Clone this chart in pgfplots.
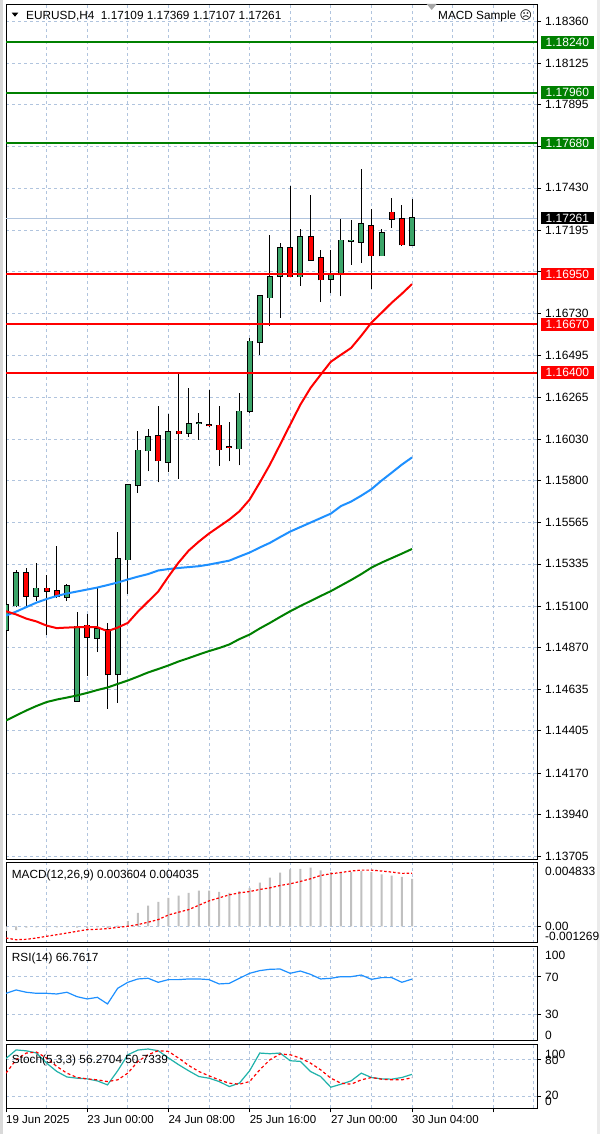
\documentclass[border=0pt]{standalone}
\usepackage{pgfplots}
\pgfplotsset{compat=1.18}
\usepackage{pgfplotstable}
\usepackage{fontspec}
\setmainfont{Liberation Sans}
\newfontfamily\dejavu{DejaVu Sans}

\definecolor{bull}{RGB}{60,165,105}
\definecolor{bear}{RGB}{255,0,0}
\definecolor{gridc}{RGB}{176,196,222}
\definecolor{mablue}{RGB}{30,144,255}
\definecolor{magreen}{RGB}{0,128,0}
\definecolor{histc}{RGB}{192,192,192}
\definecolor{stochc}{RGB}{32,178,170}

\newcommand\lbl{\fontsize{12}{14}\selectfont}
\newcommand\txt{\fontsize{11.8}{14}\selectfont}

% bullish candles: bar, low, open, close, high
\pgfplotstableread{
x  low     bot     top     high
0  1.14904 1.14965 1.15108 1.15119
1  1.15092 1.15103 1.15285 1.15303
3  1.15127 1.15155 1.15199 1.15340
6  1.15127 1.15151 1.15212 1.15225
7  1.14568 1.14570 1.14987 1.15068
9  1.14843 1.14923 1.14973 1.15201
11 1.14561 1.14719 1.15363 1.15511
12 1.15168 1.15359 1.15776 1.15780
13 1.15730 1.15773 1.15967 1.16077
14 1.15851 1.15966 1.16042 1.16088
16 1.15845 1.15901 1.16072 1.16172
18 1.16042 1.16064 1.16114 1.16315
19 1.16027 1.16116 1.16122 1.16176
23 1.15884 1.15977 1.16185 1.16287
24 1.16177 1.16185 1.16574 1.16595
25 1.16500 1.16569 1.16829 1.16834
26 1.16662 1.16819 1.16933 1.17168
27 1.16705 1.16940 1.17094 1.17122
29 1.16886 1.16936 1.17156 1.17200
32 1.16844 1.16922 1.16946 1.17085
33 1.16825 1.16946 1.17137 1.17258
34 1.17001 1.17132 1.17137 1.17252
35 1.17011 1.17128 1.17228 1.17534
37 1.17049 1.17052 1.17178 1.17202
40 1.17107 1.17109 1.17261 1.17369
}\bull

% bearish candles: bar, low, close, open, high
\pgfplotstableread{
x  low     bot     top     high
2  1.15092 1.15155 1.15285 1.15313
4  1.14941 1.15185 1.15199 1.15275
5  1.15147 1.15155 1.15186 1.15433
8  1.14709 1.14928 1.14993 1.15058
10 1.14528 1.14719 1.14969 1.15006
15 1.15789 1.15910 1.16049 1.16212
17 1.15810 1.16060 1.16073 1.16404
20 1.16100 1.16105 1.16110 1.16305
21 1.15882 1.15971 1.16107 1.16216
22 1.15906 1.15986 1.15988 1.16126
28 1.16935 1.16936 1.17094 1.17443
30 1.17026 1.17029 1.17156 1.17391
31 1.16794 1.16918 1.17039 1.17085
36 1.16866 1.17052 1.17220 1.17313
38 1.17206 1.17256 1.17293 1.17376
39 1.17107 1.17113 1.17256 1.17336
}\bear

% moving averages
\pgfplotstableread{
x  red     blue    green
0  1.15071 1.15047 1.14462
1  1.15053 1.15069 1.14490
2  1.15030 1.15094 1.14518
3  1.15014 1.15119 1.14543
4  1.14991 1.15139 1.14565
5  1.14977 1.15156 1.14579
6  1.14980 1.15170 1.14590
7  1.14982 1.15181 1.14602
8  1.14983 1.15192 1.14616
9  1.14982 1.15203 1.14632
10 1.14960 1.15217 1.14646
11 1.14980 1.15231 1.14666
12 1.15006 1.15248 1.14685
13 1.15069 1.15264 1.14707
14 1.15125 1.15278 1.14730
15 1.15181 1.15298 1.14749
16 1.15264 1.15306 1.14769
17 1.15342 1.15312 1.14791
18 1.15409 1.15317 1.14810
19 1.15459 1.15322 1.14830
20 1.15504 1.15331 1.14849
21 1.15543 1.15342 1.14866
22 1.15582 1.15353 1.14886
23 1.15628 1.15376 1.14916
24 1.15693 1.15398 1.14941
25 1.15788 1.15426 1.14975
26 1.15888 1.15452 1.15006
27 1.15999 1.15484 1.15039
28 1.16111 1.15515 1.15071
29 1.16222 1.15540 1.15100
30 1.16315 1.15565 1.15128
31 1.16389 1.15590 1.15156
32 1.16461 1.15615 1.15183
33 1.16500 1.15657 1.15214
34 1.16538 1.15682 1.15245
35 1.16606 1.15715 1.15278
36 1.16679 1.15751 1.15314
37 1.16734 1.15799 1.15342
38 1.16790 1.15843 1.15367
39 1.16840 1.15888 1.15392
40 1.16894 1.15928 1.15418
}\ma

% MACD histogram and signal
\pgfplotstableread{
x  hist     sig
0  -0.00035 -0.00089
1  -0.00030 -0.00102
2  -0.00010 -0.00099
3  -0.00008 -0.00089
4  -0.00008 -0.00076
5  -0.00008 -0.00064
6  -0.00006 -0.00051
7  -0.00010 -0.00038
8  -0.00012 -0.00025
9  -0.00008 -0.00023
10 -0.00012 -0.00018
11 0.00005  -0.00008
12 0.00040  0.00000
13 0.00102  0.00013
14 0.00158  0.00031
15 0.00186  0.00051
16 0.00216  0.00086
17 0.00234  0.00107
18 0.00254  0.00127
19 0.00272  0.00160
20 0.00272  0.00193
21 0.00262  0.00216
22 0.00254  0.00239
23 0.00267  0.00254
24 0.00292  0.00264
25 0.00331  0.00280
26 0.00369  0.00292
27 0.00407  0.00310
28 0.00432  0.00323
29 0.00437  0.00341
30 0.00445  0.00361
31 0.00425  0.00386
32 0.00412  0.00399
33 0.00412  0.00409
34 0.00412  0.00420
35 0.00420  0.00427
36 0.00412  0.00427
37 0.00394  0.00420
38 0.00386  0.00412
39 0.00375  0.00402
40 0.003604 0.004035
}\macd

% RSI(14) and Stochastic(5,3,3)
\pgfplotstableread{
x  rsi   k     d
0  51.9  82.0  58.2
1  55.4  96.0  80.0
2  53.0  94.5  90.9
3  51.9  91.0  92.5
4  51.9  74.5  82.7
5  51.2  61.0  69.1
6  53.0  52.0  58.2
7  48.4  50.0  51.1
8  46.0  48.9  48.9
9  47.7  45.6  47.3
10 40.8  39.1  44.5
11 57.1  62.0  47.3
12 63.4  88.0  58.2
13 66.9  95.8  77.3
14 67.6  97.5  88.2
15 63.4  94.7  94.7
16 66.2  83.0  93.6
17 66.2  72.0  82.7
18 66.9  62.0  70.7
19 66.9  52.7  60.9
20 66.2  50.0  53.8
21 61.7  44.5  47.3
22 62.3  36.4  41.8
23 67.6  42.0  40.2
24 72.8  62.0  44.5
25 75.6  90.9  63.6
26 77.0  89.8  80.0
27 77.3  90.9  89.3
28 72.8  78.4  88.2
29 75.2  77.3  82.7
30 71.7  60.9  74.5
31 66.9  52.7  63.6
32 67.6  35.3  50.0
33 69.3  40.2  41.8
34 69.3  45.6  40.2
35 71.0  58.2  47.3
36 66.5  51.1  51.1
37 68.3  48.9  48.4
38 68.3  48.4  47.3
39 63.4  51.1  47.3
40 66.76 56.27 50.73
}\osc

\pgfplotsset{
  panel/.style={
    scale only axis, width=531pt,
    xmin=0, xmax=52.315,
    axis line style={black, line width=1pt},
    grid style={gridc, line width=0.7pt, dash pattern=on 3pt off 3pt},
    minor grid style={gridc, line width=0.7pt, dash pattern=on 3pt off 3pt},
    tick style={black, line width=0.7pt},
    tick align=outside, major tick length=4pt,
    clip mode=individual,
    scaled y ticks=false,
    ytick pos=right,
    every tick label/.append style={font=\lbl},
  },
  wick/.style={draw=none, no markers, error bars/.cd, y dir=plus, y explicit,
    error mark=none, error bar style={draw=black, line width=1pt}},
  bodyline/.style={draw=none, no markers, error bars/.cd, y dir=plus, y explicit,
    error mark=none, error bar style={draw=black, line width=6pt}},
  bodyfill/.style={draw=none, no markers, error bars/.cd, y dir=plus, y explicit,
    error mark=none, error bar style={draw=#1, line width=4pt}},
}

\begin{document}
\begin{tikzpicture}
\path[use as bounding box] (0,0) rectangle (600pt,1134pt);
\fill[white] (0,0) rectangle (600pt,1134pt);
\fill[black!15] (0,0) rectangle (2.5pt,1134pt);
\fill[black!8] (597pt,0) rectangle (600pt,1134pt);

% ---- price panel ----
\begin{axis}[panel, at={(6pt,1129pt)}, anchor=north west, height=855pt,
  ymin=1.13685, ymax=1.18449,
  xtick={4,8,...,52}, xticklabels={}, xtick style={draw=none}, xmajorgrids,
  ytick={1.13705,1.13940,1.14170,1.14405,1.14635,1.14870,1.15100,1.15335,1.15565,1.15800,1.16030,1.16265,1.16495,1.16730,1.16965,1.17195,1.17430,1.17660,1.17895,1.18125,1.18360},
  yticklabels={1.13705,1.13940,1.14170,1.14405,1.14635,1.14870,1.15100,1.15335,1.15565,1.15800,1.16030,1.16265,1.16495,1.16730,,1.17195,1.17430,,1.17895,1.18125,1.18360},
  ymajorgrids, yticklabel pos=right,
  yticklabel style={anchor=west, inner sep=0pt, xshift=4pt}]

\addplot[gridc, line width=0.8pt] coordinates {(0,1.17261) (52.315,1.17261)};

\addplot[wick] table[x=x, y=low, y error expr=\thisrow{high}-\thisrow{low}] {\bull};
\addplot[wick] table[x=x, y=low, y error expr=\thisrow{high}-\thisrow{low}] {\bear};
\addplot[bodyline] table[x=x, y expr=\thisrow{bot}-0.00004, y error expr=\thisrow{top}-\thisrow{bot}+0.00008] {\bull};
\addplot[bodyline] table[x=x, y expr=\thisrow{bot}-0.00004, y error expr=\thisrow{top}-\thisrow{bot}+0.00008] {\bear};
\addplot[bodyfill=bull] table[x=x, y=bot, y error expr=\thisrow{top}-\thisrow{bot}] {\bull};
\addplot[bodyfill=bear] table[x=x, y=bot, y error expr=\thisrow{top}-\thisrow{bot}] {\bear};

\addplot[magreen, line width=2pt] table[x=x, y=green] {\ma};
\addplot[mablue, line width=2pt] table[x=x, y=blue] {\ma};
\addplot[red, line width=2pt] table[x=x, y=red] {\ma};

\addplot[magreen, line width=2pt] coordinates {(0,1.18240) (52.315,1.18240)};
\addplot[magreen, line width=2pt] coordinates {(0,1.17960) (52.315,1.17960)};
\addplot[magreen, line width=2pt] coordinates {(0,1.17680) (52.315,1.17680)};
\addplot[red, line width=2pt] coordinates {(0,1.16950) (52.315,1.16950)};
\addplot[red, line width=2pt] coordinates {(0,1.16670) (52.315,1.16670)};
\addplot[red, line width=2pt] coordinates {(0,1.16400) (52.315,1.16400)};

\foreach \v/\c in {1.18240/magreen, 1.17960/magreen, 1.17680/magreen, 1.16950/red, 1.16670/red, 1.16400/red, 1.17261/black}{
  \edef\tmp{\noexpand\node[fill=\c, text=white, anchor=west, inner xsep=4.5pt, inner ysep=2pt, font=\noexpand\lbl, xshift=4pt] at (axis cs:52.315,\v) {\v};}
  \tmp
}
\end{axis}

% ---- MACD panel ----
\begin{axis}[panel, at={(6pt,271.3pt)}, anchor=north west, height=80.3pt,
  ymin=-0.001269, ymax=0.004833,
  xtick={4,8,...,52}, xticklabels={}, xtick style={draw=none}, xmajorgrids,
  ytick={0}, yticklabels={}, ymajorgrids]
\addplot[ybar, bar width=2pt, bar shift=0pt, fill=histc, draw=none] table[x=x, y=hist] {\macd};
\addplot[red, line width=1.2pt, dash pattern=on 2.5pt off 2pt] table[x=x, y=sig] {\macd};
\end{axis}

% ---- RSI panel ----
\begin{axis}[panel, at={(6pt,187.3pt)}, anchor=north west, height=94pt,
  ymin=2.4, ymax=100.6,
  xtick={4,8,...,52}, xticklabels={}, xtick style={draw=none}, xmajorgrids,
  ytick={30,70}, yticklabels={}, ymajorgrids]
\addplot[mablue, line width=1.2pt] table[x=x, y=rsi] {\osc};
\end{axis}

% ---- Stochastic panel ----
\begin{axis}[panel, at={(6pt,89pt)}, anchor=north west, height=63.3pt,
  ymin=1, ymax=104,
  xtick={0,8,...,48},
  xticklabels={19 Jun 2025, 23 Jun 00:00, 24 Jun 08:00, 25 Jun 16:00, 27 Jun 00:00, 30 Jun 04:00, {}},
  minor xtick={4,12,...,52}, minor tick length=0pt,
  xtick pos=bottom, xmajorgrids, xminorgrids,
  xticklabel style={anchor=north west, inner sep=0pt, yshift=-3pt, font=\fontsize{11.5}{13}\selectfont},
  ytick={20,80}, yticklabels={}, ymajorgrids]
\addplot[stochc, line width=1.2pt] table[x=x, y=k] {\osc};
\addplot[red, line width=1.2pt, dash pattern=on 3pt off 2.5pt] table[x=x, y=d] {\osc};
\end{axis}

% ---- texts ----
\fill[black] (11.7pt,1121.3pt) -- (18.3pt,1121.3pt) -- (15pt,1117.3pt) -- cycle;
\node[anchor=base west, inner sep=0pt, font=\txt] at (26pt,1114.7pt) {EURUSD,H4\ \ 1.17109 1.17369 1.17107 1.17261};
\fill[black!35] (426.7pt,1130pt) -- (436.7pt,1130pt) -- (431.7pt,1124pt) -- cycle;
\node[anchor=base west, inner sep=0pt, font=\txt] at (438pt,1114.7pt) {MACD Sample};
\node[anchor=base west, inner sep=0pt, font=\dejavu\fontsize{12}{14}\selectfont] at (519.5pt,1114.7pt) {☹};

\node[anchor=base west, inner sep=0pt, font=\txt] at (11.7pt,255.5pt) {MACD(12,26,9) 0.003604 0.004035};
\node[anchor=base west, inner sep=0pt, font=\txt] at (11.7pt,172pt) {RSI(14) 66.7617};
\node[anchor=base west, inner sep=0pt, font=\txt] at (11.7pt,70.3pt) {Stoch(5,3,3) 56.2704 50.7339};

\foreach \yy/\t in {262.5/0.004833, 208/0.00, 198/-0.001269, 179/100, 157/70, 119.5/30, 99/0, 79.5/100, 73.5/80, 38.5/20, 33/0}{
  \node[anchor=west, inner sep=0pt, font=\lbl] at (545pt,\yy pt) {\t};
}
\end{tikzpicture}
\end{document}
